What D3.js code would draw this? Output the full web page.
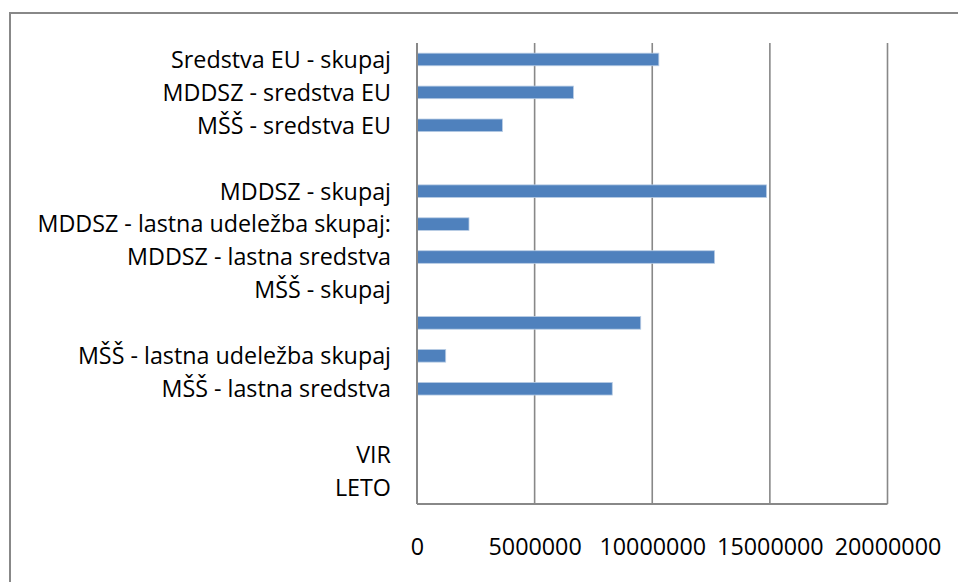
<!DOCTYPE html>
<html>
<head>
<meta charset="utf-8">
<script src="https://cdn.jsdelivr.net/npm/d3@7"></script>
<style>
  body { margin: 0; background: #fff; }
  text { font-family: "Open Sans", "Liberation Sans", sans-serif; fill: #000; }
</style>
</head>
<body>
<script>
// categories top to bottom, as they sit on the chart
const categories = [
  'Sredstva EU - skupaj',
  'MDDSZ - sredstva EU',
  'MŠŠ - sredstva EU',
  '',
  'MDDSZ - skupaj',
  'MDDSZ - lastna udeležba skupaj:',
  'MDDSZ - lastna sredstva',
  'MŠŠ - skupaj',
  '',
  'MŠŠ - lastna udeležba skupaj',
  'MŠŠ - lastna sredstva',
  '',
  'VIR',
  'LETO'
];
const values = [10280000, 6650000, 3630000, 0, 14860000, 2210000, 12650000, 0, 9510000, 1220000, 8300000, 0, 0, 0];
const xTicks = [0, 5000000, 10000000, 15000000, 20000000];

const width = 958;
const height = 582;
const margin = { top: 43, right: 70.5, bottom: 78, left: 417 };
const fontSize = '23.3px';

const svg = d3.select('body').append('svg')
  .attr('width', width)
  .attr('height', height);

// outer chart frame (runs off the right and bottom edge)
svg.append('rect')
  .attr('x', 10).attr('y', 13)
  .attr('width', 1000).attr('height', 1000)
  .attr('fill', 'none')
  .attr('stroke', '#888')
  .attr('stroke-width', 2);

const x = d3.scaleLinear()
  .domain([0, 20000000])
  .range([margin.left, width - margin.right]);

const y = d3.scaleBand()
  .domain(d3.range(categories.length))
  .range([margin.top, height - margin.bottom]);

const rows = values.map((v, i) => ({ v: v, i: i })).filter(d => d.v > 0);

// vertical gridlines
svg.append('g')
  .selectAll('line')
  .data(xTicks.slice(1))
  .enter().append('line')
  .attr('x1', d => x(d)).attr('x2', d => x(d))
  .attr('y1', margin.top).attr('y2', height - margin.bottom)
  .attr('stroke', '#888')
  .attr('stroke-width', 1.6);

// bars
svg.append('g')
  .selectAll('rect')
  .data(rows)
  .enter().append('rect')
  .attr('x', x(0))
  .attr('y', d => y(d.i) + y.bandwidth() / 2 - 6.3)
  .attr('width', d => x(d.v) - x(0))
  .attr('height', 12.6)
  .attr('fill', '#4f81bd')
  .attr('stroke', '#b8cce4')
  .attr('stroke-width', 0.8);

// left axis line + bottom axis line
svg.append('line')
  .attr('x1', x(0)).attr('x2', x(0))
  .attr('y1', margin.top).attr('y2', height - margin.bottom)
  .attr('stroke', '#888').attr('stroke-width', 2);
svg.append('line')
  .attr('x1', x(0)).attr('x2', x(20000000))
  .attr('y1', height - margin.bottom).attr('y2', height - margin.bottom)
  .attr('stroke', '#888').attr('stroke-width', 2);

// category labels
svg.append('g')
  .selectAll('text')
  .data(categories)
  .enter().append('text')
  .attr('x', 391)
  .attr('y', (d, i) => y(i) + y.bandwidth() / 2)
  .attr('dy', '0.36em')
  .attr('text-anchor', 'end')
  .style('font-size', fontSize)
  .text(d => d);

// x axis
const xAxis = d3.axisBottom(x)
  .tickValues(xTicks)
  .tickFormat(d3.format('d'))
  .tickSize(0)
  .tickPadding(34);

const gx = svg.append('g')
  .attr('transform', 'translate(0,' + (height - margin.bottom) + ')')
  .call(xAxis);
gx.select('.domain').remove();
gx.selectAll('text')
  .style('font-size', fontSize)
  .style('font-family', '"Open Sans", "Liberation Sans", sans-serif');
</script>
</body>
</html>
